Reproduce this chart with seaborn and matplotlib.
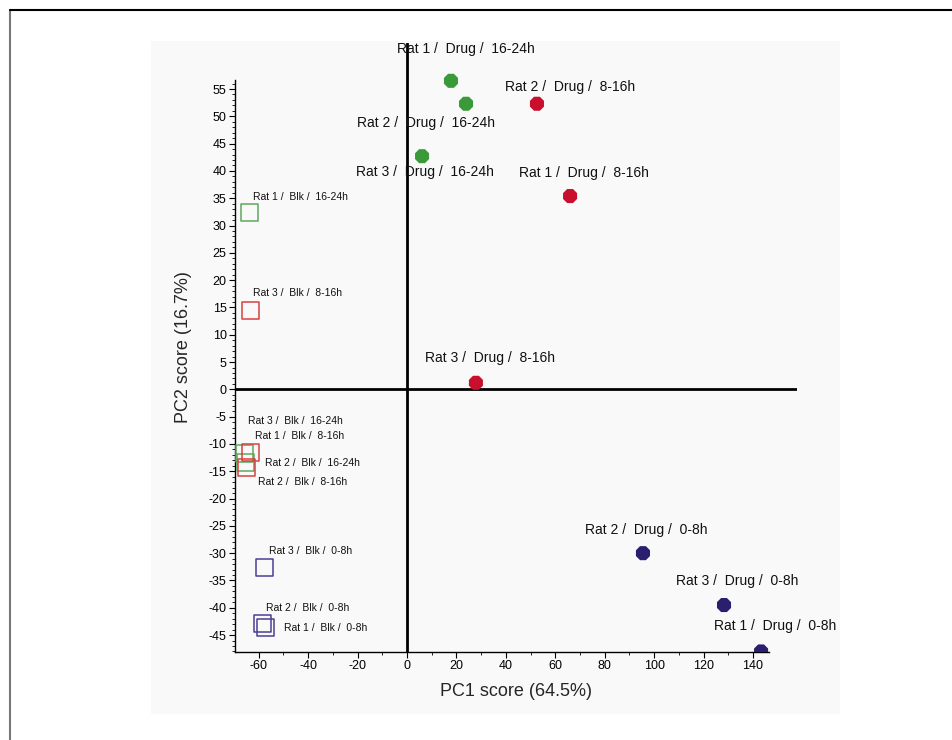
"""
PCA score plot (PC1 vs PC2) of rat urine samples, drug vs blank.
"""

import pandas as pd
import numpy as np
import matplotlib
matplotlib.use('Agg')
import matplotlib.pyplot as plt
from matplotlib.patches import Rectangle
from matplotlib.lines import Line2D
from matplotlib.ticker import FixedLocator
import seaborn as sns


sns.set_style('white')
plt.rcParams['font.family'] = ['Liberation Sans', 'DejaVu Sans']
plt.rcParams['axes.unicode_minus'] = False

# Drug samples (filled markers)
drug_rat = ['Rat 1', 'Rat 2', 'Rat 3', 'Rat 2', 'Rat 1', 'Rat 3', 'Rat 2', 'Rat 3', 'Rat 1']
drug_time = ['16-24h', '16-24h', '16-24h', '8-16h', '8-16h', '8-16h', '0-8h', '0-8h', '0-8h']
drug_pc1 = [17.8, 23.9, 6.1, 52.6, 66.0, 27.9, 95.5, 128.3, 143.3]
drug_pc2 = [56.5, 52.3, 42.7, 52.3, 35.4, 1.2, -30.0, -39.5, -48.0]

# Blank samples (open squares)
blk_rat = ['Rat 1', 'Rat 3', 'Rat 2', 'Rat 3', 'Rat 1', 'Rat 2', 'Rat 3', 'Rat 2', 'Rat 1']
blk_time = ['16-24h', '16-24h', '16-24h', '8-16h', '8-16h', '8-16h', '0-8h', '0-8h', '0-8h']
blk_pc1 = [-63.9, -65.8, -65.2, -63.5, -63.5, -64.9, -57.7, -58.4, -57.3]
blk_pc2 = [32.3, -11.7, -13.4, 14.5, -11.5, -14.3, -32.7, -42.9, -43.7]

# label offsets in pixels (dx, dy)
drug_offsets = [(15, 32), (-40, -19), (3, -16), (33, 17), (14, 23), (14, 25),
                (3, 23), (13, 24), (14, 25)]
blk_offsets = [(51, 16), (51, 32), (67, 0), (47, 17), (49, 16), (56, -15),
               (46, 17), (45, 16), (60, 0)]

drug_colors = {'16-24h': '#3a9a3a', '8-16h': '#c8102e', '0-8h': '#2a1f6e'}
blk_colors = {'16-24h': '#5fa85f', '8-16h': '#d8403f', '0-8h': '#4b3f94'}

drug = pd.DataFrame({'rat': drug_rat, 'time': drug_time, 'pc1': drug_pc1, 'pc2': drug_pc2})
blk = pd.DataFrame({'rat': blk_rat, 'time': blk_time, 'pc1': blk_pc1, 'pc2': blk_pc2})

fig = plt.figure(figsize=(9.52, 7.4), dpi=100)
W, H = 952, 740

# light grey panel and frame lines
fig.add_artist(Rectangle((151 / W, 1 - 714 / H), (840 - 151) / W, (714 - 41) / H,
                         transform=fig.transFigure, facecolor='#f9f9f9',
                         edgecolor='none', zorder=0))
fig.add_artist(Line2D([9.5 / W, 9.5 / W], [0, 1 - 10 / H], transform=fig.transFigure,
                      color='#777777', lw=1.5))
fig.add_artist(Line2D([9.5 / W, 1], [1 - 10 / H, 1 - 10 / H], transform=fig.transFigure,
                      color='black', lw=1.5))

ax = fig.add_axes([235 / W, 1 - 652 / H, (797.4 - 235) / W, (652 - 42.6) / H])
ax.set_facecolor('none')

xmin, xmax = -69.6, 158
ymin, ymax = -48.1, 63.5
ax.set_xlim(xmin, xmax)
ax.set_ylim(ymin, ymax)

ax.axhline(0, color='black', lw=2, zorder=1)
ax.axvline(0, color='black', lw=2, zorder=1)

sns.scatterplot(data=drug, x='pc1', y='pc2', hue='time', palette=drug_colors,
                marker='8', s=120, edgecolor=None, linewidth=0, legend=False,
                ax=ax, zorder=3)

for t, col in blk_colors.items():
    sub = blk[blk['time'] == t]
    sns.scatterplot(x=sub['pc1'], y=sub['pc2'], marker='s', s=150,
                    facecolor='none', edgecolor=col, linewidth=1.1,
                    legend=False, ax=ax, zorder=3)

for i, row in drug.iterrows():
    ax.annotate(f"{row['rat']} /  Drug /  {row['time']}", (row['pc1'], row['pc2']),
                xytext=drug_offsets[i], textcoords='offset pixels',
                ha='center', va='center', fontsize=10, color='#111111',
                annotation_clip=False)

for i, row in blk.iterrows():
    ax.annotate(f"{row['rat']} /  Blk /  {row['time']}", (row['pc1'], row['pc2']),
                xytext=blk_offsets[i], textcoords='offset pixels',
                ha='center', va='center', fontsize=7.5, color='#111111',
                annotation_clip=False)

for side in ['top', 'right']:
    ax.spines[side].set_visible(False)
ax.spines['left'].set_bounds(ymin, 56.6)
ax.spines['bottom'].set_bounds(xmin, 146.5)
for side in ['left', 'bottom']:
    ax.spines[side].set_linewidth(1)
    ax.spines[side].set_color('black')

ax.set_xticks(list(range(-60, 141, 20)))
ax.set_yticks(list(range(-45, 56, 5)))
ax.xaxis.set_minor_locator(FixedLocator(list(range(-50, 141, 20))))
ax.yaxis.set_minor_locator(FixedLocator(list(range(-48, 57, 1))))
ax.tick_params(axis='both', which='both', bottom=True, left=True, direction='out')
ax.tick_params(axis='both', which='major', length=4, width=0.8,
               labelsize=9, pad=2, colors='black')
ax.tick_params(axis='both', which='minor', length=2, width=0.6, colors='black')

ax.set_xlabel('PC1 score (64.5%)', fontsize=13, labelpad=8)
ax.set_ylabel('PC2 score (16.7%)', fontsize=13, labelpad=12)

plt.savefig('out.png', dpi=100)
plt.close()
